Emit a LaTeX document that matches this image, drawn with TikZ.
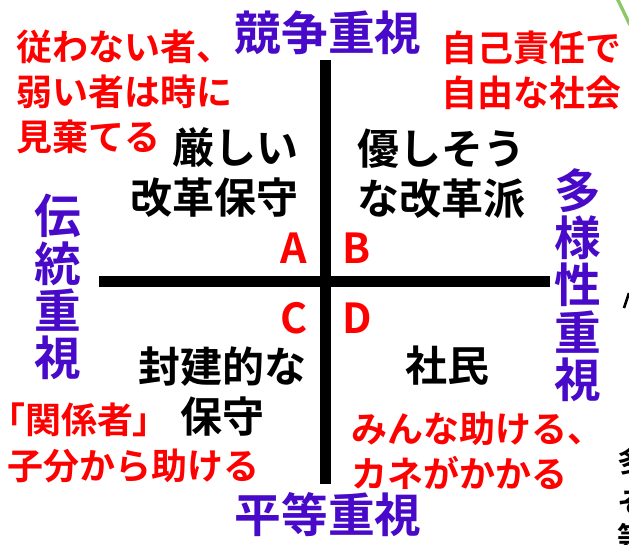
\documentclass[tikz,border=0pt]{standalone}
\usepackage{fontspec}
\setmainfont{Noto Sans CJK JP}[BoldFont={* Bold}]
\definecolor{ppl}{RGB}{72,10,200}
\definecolor{rd}{RGB}{255,0,0}
\definecolor{grn}{RGB}{140,200,100}
\tikzset{
  purp/.style={inner sep=0pt, text=ppl, font=\fontsize{35}{35}\selectfont\bfseries},
  purpv/.style={inner sep=0pt, text=ppl, align=center, font=\fontsize{35}{35.5}\selectfont\bfseries},
  redt/.style={inner sep=0pt, text=rd, font=\fontsize{27}{34}\selectfont\bfseries},
  blk/.style={inner sep=0pt, text=black, font=\fontsize{31.5}{37.5}\selectfont\bfseries},
  letter/.style={inner sep=0pt, text=rd, font=\fontsize{31}{31}\selectfont\bfseries},
  frag/.style={inner sep=0pt, anchor=west, font=\fontsize{22}{22}\selectfont\bfseries},
  axis/.style={line width=8.25pt},
}
\begin{document}
\begin{tikzpicture}[x=0.75pt,y=-0.75pt]
\clip (0,0) rectangle (629,544);
\fill[white] (0,0) rectangle (629,544);
% axes
\coordinate (L) at (99,281);
\coordinate (R) at (550,281);
\coordinate (T) at (325,60);
\coordinate (B) at (325,484);
\draw[axis] (L) -- (R);
\draw[axis] (T) -- (B);
% axis labels
\node[purp] (top) at (328,33) {競争重視};
\node[purp] (bot) at (328,515) {平等重視};
\node[purpv] (left) at (58,287) {伝\\統\\重\\視};
\node[purpv] (right) at (578,285) {多\\様\\性\\重\\視};
% red notes
\node[redt, anchor=west, align=left] (n1) at (16,92) {従わない者、\\弱い者は時に\\見棄てる};
\node[redt, anchor=west, align=left] (n2) at (441,70) {自己責任で\\自由な社会};
\node[redt, anchor=west, align=left] (n3) at (7,443) {{\addfontfeatures{RawFeature=+palt}「関係者」}\\子分から助ける};
\node[redt, anchor=west, align=left] (n4) at (351,451) {みんな助ける、\\カネがかかる};
% quadrant texts
\node[blk, anchor=east, align=right] (qa) at (299,173) {厳しい\\改革保守};
\node[blk, anchor=west, align=left] (qb) at (357,174) {優しそう\\な改革派};
\node[blk, align=center] (qc) at (222,392) {封建的な\\保守};
\node[blk] (qd) at (447,366) {社民};
% letters
\node[letter] (A) at (294,248) {A};
\node[letter] (Bl) at (357,248) {B};
\node[letter] (C) at (294,318) {C};
\node[letter] (D) at (357,318) {D};
% fragments of neighbouring content at the right edge
\draw[grn, line width=2.5pt] (617,-2) -- (630,25);
\draw[line width=2pt] (624,308) -- (629,293);
\node[frag] (f1) at (617,461) {多};
\node[frag] (f2) at (617,503) {そ};
\node[frag] (f3) at (617,537) {等};
\end{tikzpicture}
\end{document}
